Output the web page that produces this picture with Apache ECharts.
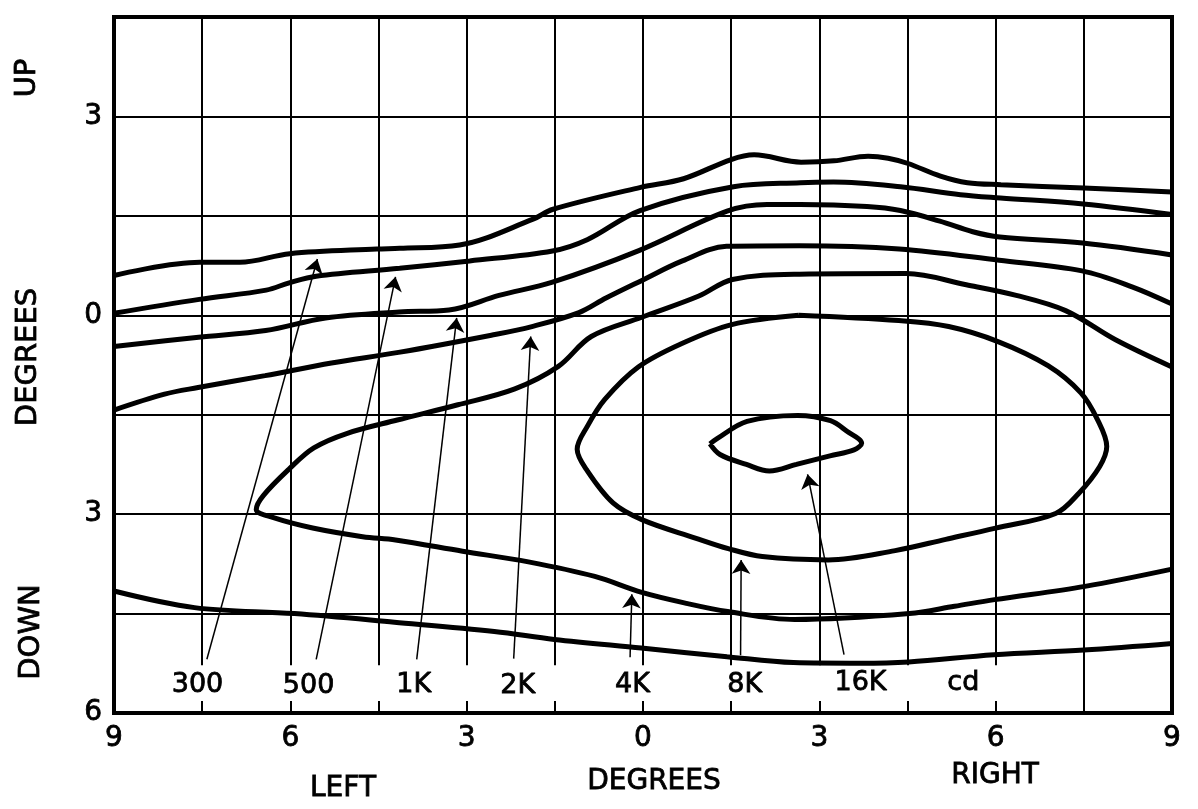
<!DOCTYPE html>
<html><head><meta charset="utf-8">
<script src="https://cdn.jsdelivr.net/npm/echarts@6/dist/echarts.min.js"></script>
<style>html,body{margin:0;padding:0;background:#fff}#c{width:1198px;height:809px}</style>
</head><body><div id="c"></div>
<script>
// Isocandela contours (horizontal degrees: negative = LEFT, vertical degrees: negative = DOWN)
const curve300 = [[-9,0.60],[-7.54,0.80],[-6.86,0.80],[-6.01,0.93],[-4.53,1.00],[-4.14,1.01],[-3.12,1.06],[-1.87,1.45],[-1.53,1.60],[-0.04,1.93],[0.69,2.06],[1.50,2.35],[1.89,2.42],[2.69,2.31],[3.25,2.33],[3.83,2.40],[4.17,2.37],[4.51,2.29],[5.06,2.10],[5.52,2.00],[6.09,1.97],[7.50,1.92],[9,1.86]];
const curve500 = [[-9,0.03],[-7.55,0.24],[-6.41,0.38],[-6.02,0.49],[-5.56,0.59],[-4.14,0.71],[-2.95,0.82],[-1.54,0.97],[-0.95,1.14],[-0.05,1.58],[1.54,1.94],[2.68,2.00],[3.24,2.01],[4.38,1.94],[5.40,1.82],[6.08,1.77],[7.49,1.68],[9,1.52]];
const curve1K = [[-9,-0.47],[-7.56,-0.33],[-6.42,-0.23],[-5.40,-0.04],[-4.15,0.05],[-3.30,0.08],[-2.45,0.30],[-1.54,0.50],[-0.06,0.98],[1.43,1.57],[2.11,1.67],[2.68,1.67],[3.81,1.64],[4.38,1.58],[5.05,1.42],[5.61,1.26],[6.07,1.18],[7.48,1.09],[9,0.91]];
const curve2K = [[-9,-1.43],[-8.14,-1.19],[-7.57,-1.09],[-6.43,-0.91],[-5.30,-0.72],[-4.16,-0.56],[-2.58,-0.30],[-1.89,-0.17],[-1.09,0.04],[-0.63,0.26],[-0.01,0.53],[0.67,0.82],[1.42,1.04],[2.66,1.05],[4.36,1.00],[6.06,0.83],[7.47,0.67],[8.32,0.43],[9,0.17]];
const curve2KLower = [[-9,-4.16],[-7.63,-4.41],[-5.93,-4.50],[-4.23,-4.63],[-2.53,-4.77],[-1.51,-4.89],[-0.03,-5.02],[1.43,-5.15],[2.56,-5.24],[3.70,-5.25],[4.52,-5.23],[5.97,-5.12],[7.50,-5.05],[9,-4.95]];
const curve4K = [[9,-0.78],[8.04,-0.37],[7.19,0.07],[6.35,0.30],[5.50,0.46],[4.48,0.63],[2.66,0.62],[1.52,0.54],[0.95,0.29],[-0.02,-0.03],[-0.88,-0.32],[-1.44,-0.77],[-2.18,-1.11],[-3.15,-1.35],[-4.18,-1.58],[-5.03,-1.78],[-5.60,-2.00],[-6.01,-2.31],[-6.46,-2.72],[-6.58,-2.93],[-6.30,-3.05],[-5.62,-3.21],[-4.77,-3.34],[-4.21,-3.39],[-3.07,-3.56],[-1.95,-3.72],[-0.82,-3.94],[-0.02,-4.18],[0.76,-4.35],[1.44,-4.47],[2.58,-4.59],[4.53,-4.50],[5.30,-4.39],[5.98,-4.29],[7.52,-4.09],[9,-3.83]];
const curve8K = [[2.65,0.00],[4.35,-0.08],[5.20,-0.17],[6.05,-0.40],[6.89,-0.76],[7.45,-1.17],[7.73,-1.57],[7.89,-1.98],[7.77,-2.28],[7.42,-2.68],[7.02,-2.99],[6.00,-3.21],[5.15,-3.38],[4.29,-3.55],[3.15,-3.69],[2.03,-3.64],[1.45,-3.52],[0.89,-3.36],[0.00,-3.09],[-0.51,-2.83],[-0.96,-2.33],[-1.12,-2.02],[-0.95,-1.68],[-0.65,-1.27],[-0.08,-0.78],[0.65,-0.43],[1.51,-0.14],[2.65,0.00]];
const curve16K = [[1.14,-1.94],[1.26,-1.86],[1.77,-1.60],[2.63,-1.51],[3.19,-1.59],[3.47,-1.75],[3.72,-1.93],[3.59,-2.03],[3.18,-2.12],[2.61,-2.25],[2.15,-2.35],[1.76,-2.25],[1.31,-2.10],[1.14,-1.94]];

// Contour labels and their leader arrows
const labelText = ['300','500','1K','2K','4K','8K','16K','cd'];
const labelX = [-7.58,-5.69,-3.90,-2.13,-0.18,1.73,3.70,5.45];
const labelY = [-5.57,-5.59,-5.57,-5.59,-5.58,-5.57,-5.55,-5.54];
const arrowFrom = [[-7.42,-5.19],[-5.56,-5.19],[-3.85,-5.19],[-2.20,-5.18],[-0.22,-5.16],[1.66,-5.13],[3.42,-5.12]];
const arrowTo = [[-5.54,0.85],[-4.21,0.58],[-3.17,-0.04],[-1.91,-0.32],[-0.19,-4.21],[1.67,-3.69],[2.80,-2.40]];

// Tick labels
const xTickValues = [-9,-6,-3,0,3,6,9];
const xTickText = ['9','6','3','0','3','6','9'];
const yTickValues = [3,0,-3,-6];
const yTickText = ['3','0','3','6'];

const FONT = 'DejaVu Sans';
const chart = echarts.init(document.getElementById('c'), null, {renderer:'canvas'});

const curves = [curve300, curve500, curve1K, curve2K, curve2KLower, curve4K, curve8K, curve16K];
const curveSeries = curves.map(c => ({
  type:'line', data:c, smooth:0.35, showSymbol:false, symbol:'none',
  lineStyle:{color:'#000', width:5}, silent:true, animation:false, z:3
}));

function tickFmt(vals, texts){
  return v => { const i = vals.findIndex(t => Math.abs(t - v) < 1e-6); return i >= 0 ? texts[i] : ''; };
}
const bold = {textBorderColor:'#000', textBorderWidth:0.8};
function title(text, x, y, size, rot){
  return {type:'text', x:x, y:y, rotation:rot || 0,
    style:{text:text, font:size+'px '+FONT, fill:'#000', stroke:'#000', lineWidth:0.8, textAlign:'center', textVerticalAlign:'middle'}};
}

chart.setOption({
  backgroundColor:'#fff',
  animation:false,
  grid:{left:114, right:26, top:17, bottom:96, show:true, borderColor:'#000', borderWidth:4, backgroundColor:'transparent'},
  xAxis:{type:'value', min:-9, max:9, interval:1.5,
    axisLine:{show:true, onZero:false, lineStyle:{color:'#000', width:4}},
    axisTick:{show:false},
    splitLine:{show:true, lineStyle:{color:'#000', width:2}},
    axisLabel:Object.assign({formatter:tickFmt(xTickValues, xTickText), color:'#000', fontSize:28, fontFamily:FONT, margin:12, showMinLabel:true, showMaxLabel:true}, bold)
  },
  yAxis:{type:'value', min:-6, max:4.5, interval:1.5,
    axisLine:{show:true, onZero:false, lineStyle:{color:'#000', width:4}},
    axisTick:{show:false},
    splitLine:{show:true, lineStyle:{color:'#000', width:2}},
    axisLabel:Object.assign({formatter:tickFmt(yTickValues, yTickText), color:'#000', fontSize:28, fontFamily:FONT, margin:12, showMinLabel:true}, bold)
  },
  series:[
    {type:'line', data:[], silent:true, z:1,
      markArea:{silent:true, itemStyle:{color:'#fff', opacity:1}, label:{show:false},
        data:[[{coord:[-8.95,-5.28]},{coord:[7.3,-5.82]}]]}
    },
    ...curveSeries,
    {type:'line', data:[], silent:true, z:4,
      markLine:{silent:true, symbol:['none','arrow'], symbolSize:14, label:{show:false},
        lineStyle:{color:'#000', width:1.5, type:'solid', opacity:1},
        itemStyle:{color:'#000'},
        emphasis:{disabled:true},
        animation:false,
        data:arrowFrom.map((p,i)=>[{coord:p},{coord:arrowTo[i]}])}
    },
    {type:'scatter', silent:true, z:5, symbolSize:0,
      itemStyle:{color:'#000', opacity:1},
      data:labelText.map((t,i)=>({name:t, value:[labelX[i], labelY[i]]})),
      label:Object.assign({show:true, position:'inside', formatter:'{b}', color:'#000', opacity:1, fontSize:27, fontFamily:FONT}, bold)
    }
  ],
  graphic:[
    title('UP', 27, 78, 29, Math.PI/2),
    title('DEGREES', 28, 357, 29, Math.PI/2),
    title('DOWN', 31, 632, 29, Math.PI/2),
    title('LEFT', 343, 789, 28),
    title('DEGREES', 654, 782, 28),
    title('RIGHT', 995, 776, 28)
  ]
});
</script></body></html>
